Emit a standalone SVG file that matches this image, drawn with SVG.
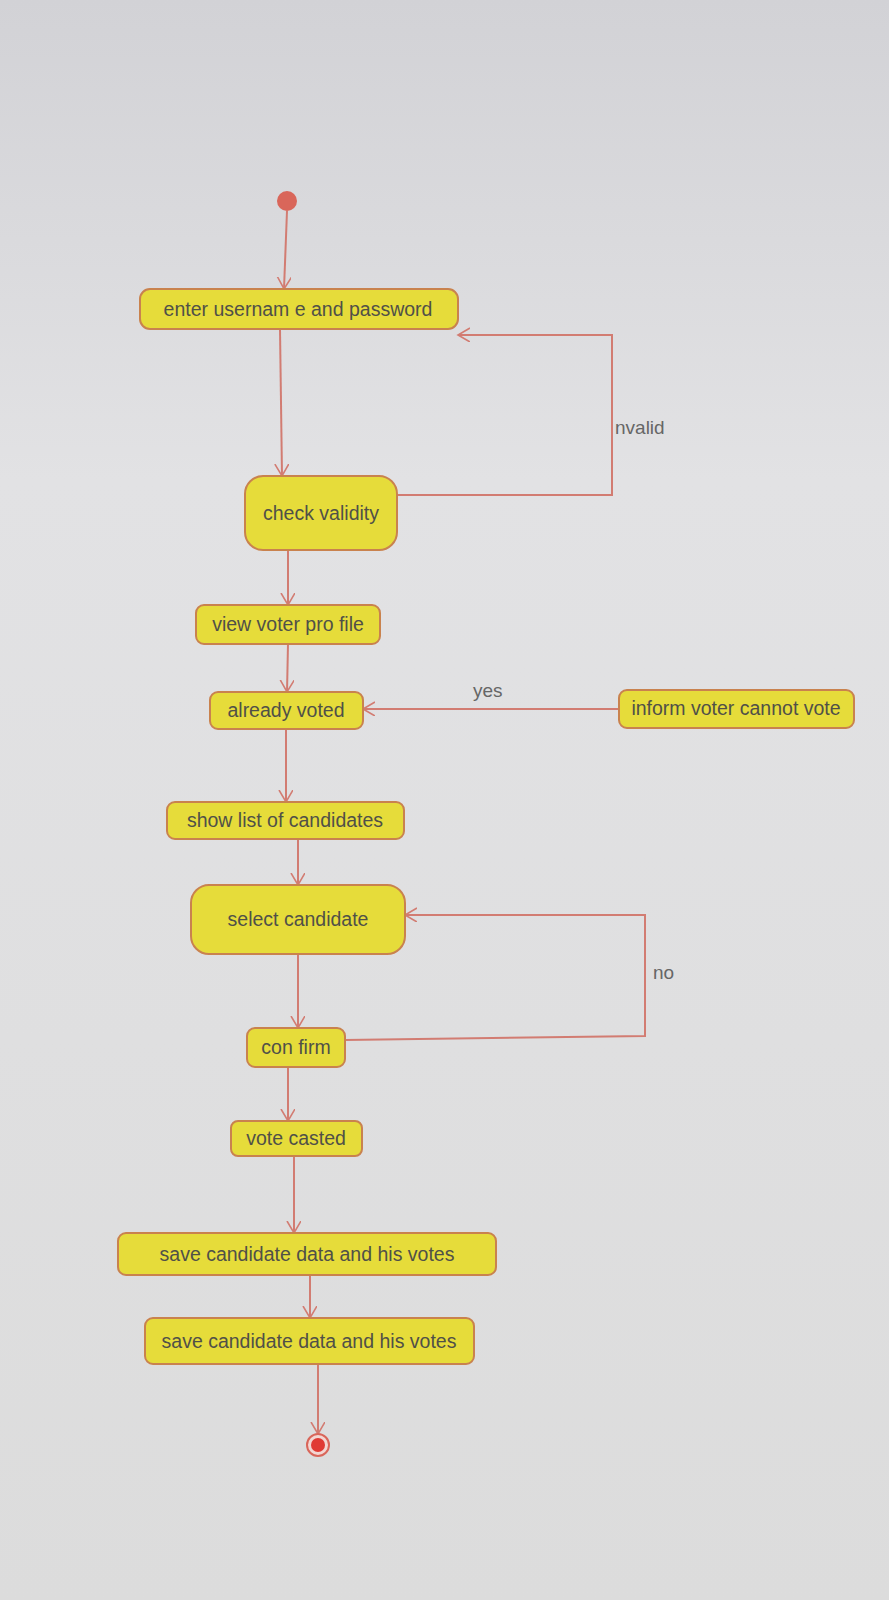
<svg xmlns="http://www.w3.org/2000/svg" width="889" height="1600" viewBox="0 0 889 1600">
<defs>
<linearGradient id="bg" x1="0" y1="0" x2="0" y2="1">
<stop offset="0" stop-color="#d2d2d6"/>
<stop offset="0.3" stop-color="#e2e2e4"/>
<stop offset="1" stop-color="#dcdcdc"/>
</linearGradient>
<marker id="arr" markerUnits="userSpaceOnUse" markerWidth="16" markerHeight="16" refX="12" refY="7" orient="auto">
<path d="M0,0 L12,7 L0,14" fill="none" stroke="#d27c72" stroke-width="1.6"/>
</marker>
<style>
.node rect{fill:#e6dc3a;stroke:#c9824e;stroke-width:2}
.node text{font-family:"Liberation Sans",Arial,sans-serif;font-size:19.5px;fill:#505048;text-anchor:middle}
.conn path{fill:none;stroke:#d27c72;stroke-width:2;marker-end:url(#arr)}
.lbl{font-family:"Liberation Sans",Arial,sans-serif;font-size:19px;fill:#666}
</style>
</defs>
<rect x="0" y="0" width="889" height="1600" fill="url(#bg)"/>

<g id="connectors" class="conn">
<path d="M287,211 L284,289"/>
<path d="M280,329 L282,476"/>
<path d="M397,495 L612,495 L612,335 L458,335"/>
<path d="M288,550 L288,605"/>
<path d="M288,644 L287,692"/>
<path d="M619,709 L363,709"/>
<path d="M286,729 L286,802"/>
<path d="M298,839 L298,885"/>
<path d="M298,954 L298,1028"/>
<path d="M345,1040 L645,1036 L645,915 L405,915"/>
<path d="M288,1067 L288,1121"/>
<path d="M294,1156 L294,1233"/>
<path d="M310,1275 L310,1318"/>
<path d="M318,1364 L318,1434"/>
</g>

<g id="start"><circle cx="287" cy="201" r="10" fill="#d9665a"/></g>

<g id="enter" class="node"><rect x="140" y="289" width="318" height="40" rx="10"/><text x="298" y="316">enter usernam e and password</text></g>
<g id="check" class="node"><rect x="245" y="476" width="152" height="74" rx="18"/><text x="321" y="520">check validity</text></g>
<g id="view" class="node"><rect x="196" y="605" width="184" height="39" rx="8"/><text x="288" y="631">view voter pro file</text></g>
<g id="already" class="node"><rect x="210" y="692" width="153" height="37" rx="8"/><text x="286" y="717">already voted</text></g>
<g id="inform" class="node"><rect x="619" y="690" width="235" height="38" rx="8"/><text x="736" y="715">inform voter cannot vote</text></g>
<g id="show" class="node"><rect x="167" y="802" width="237" height="37" rx="8"/><text x="285" y="827">show list of candidates</text></g>
<g id="select" class="node"><rect x="191" y="885" width="214" height="69" rx="18"/><text x="298" y="926">select candidate</text></g>
<g id="confirm" class="node"><rect x="247" y="1028" width="98" height="39" rx="8"/><text x="296" y="1054">con firm</text></g>
<g id="casted" class="node"><rect x="231" y="1121" width="131" height="35" rx="7"/><text x="296" y="1145">vote casted</text></g>
<g id="save1" class="node"><rect x="118" y="1233" width="378" height="42" rx="8"/><text x="307" y="1261">save candidate data and his votes</text></g>
<g id="save2" class="node"><rect x="145" y="1318" width="329" height="46" rx="8"/><text x="309" y="1348">save candidate data and his votes</text></g>

<g id="end"><circle cx="318" cy="1445" r="11" fill="#f3d6d2" stroke="#d9665a" stroke-width="2"/><circle cx="318" cy="1445" r="7" fill="#e03a34"/></g>

<g id="labels">
<text class="lbl" x="615" y="434">nvalid</text>
<text class="lbl" x="473" y="697">yes</text>
<text class="lbl" x="653" y="979">no</text>
</g>
</svg>
